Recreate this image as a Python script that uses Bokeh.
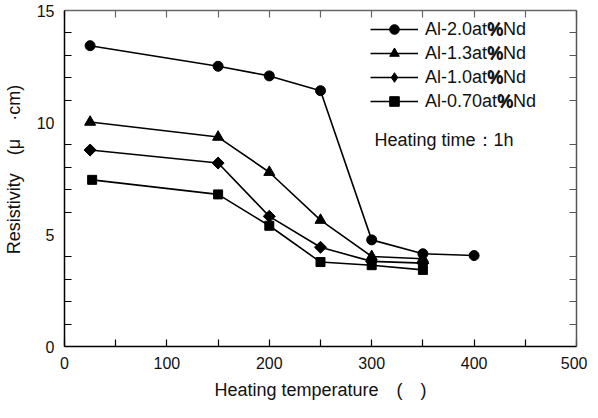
import math
from bokeh.plotting import figure
from bokeh.models import (Range1d, LinearAxis, FixedTicker, Legend, LegendItem, Label)
from bokeh.embed import file_html
from bokeh.resources import INLINE

# ---- data ----
temp_20 = [25, 150, 200, 250, 300, 350, 400]
res_20 = [13.43, 12.51, 12.08, 11.42, 4.76, 4.14, 4.06]

temp_13 = [25, 150, 200, 250, 300, 350]
res_13 = [10.02, 9.35, 7.78, 5.64, 4.02, 3.92]

temp_10 = [25, 150, 200, 250, 300, 350]
res_10 = [8.77, 8.19, 5.81, 4.43, 3.80, 3.72]

temp_07 = [27, 150, 200, 250, 300, 350]
res_07 = [7.44, 6.79, 5.39, 3.77, 3.63, 3.42]

labels = ["Al-2.0at%Nd", "Al-1.3at%Nd", "Al-1.0at%Nd", "Al-0.70at%Nd"]
x_ticks = [0, 100, 200, 300, 400, 500]
y_ticks = [0, 5, 10, 15]

FONT = "Liberation Sans"
LEG_FS = 18

p = figure(frame_width=512, frame_height=336, output_backend="svg", toolbar_location=None,
           x_range=Range1d(0, 500), y_range=Range1d(0, 15),
           min_border_left=59, min_border_right=11, min_border_top=10, min_border_bottom=56)
p.grid.visible = False
p.outline_line_color = None
p.background_fill_color = "white"
p.border_fill_color = "white"

def style_axis(ax, ticks, minor, major_in, show_labels=True, color="black"):
    ax.ticker = FixedTicker(ticks=ticks, minor_ticks=minor)
    ax.major_tick_in = major_in
    ax.major_tick_out = 0
    ax.minor_tick_in = 7
    ax.minor_tick_out = 0
    ax.axis_line_color = color
    ax.axis_line_width = 1.5
    ax.major_tick_line_color = color
    ax.minor_tick_line_color = color
    ax.major_tick_line_width = 1.2
    ax.minor_tick_line_width = 1.2
    ax.major_label_text_font = FONT
    ax.major_label_text_font_size = "16px"
    ax.major_label_text_color = "#111111"
    ax.axis_label_text_font = FONT
    ax.axis_label_text_font_size = "18px"
    ax.axis_label_text_font_style = "normal"
    ax.axis_label_text_color = "#111111"
    if not show_labels:
        ax.major_label_text_font_size = "0px"
        ax.major_label_text_color = None

x_minor = [v for v in range(0, 501, 50) if v % 100]
y_minor = [v for v in range(0, 16) if v % 5]

xa = p.xaxis[0]
style_axis(xa, x_ticks, x_minor, 7)
xa.major_label_standoff = 10
xa.axis_label = "Heating temperature\u3000(\u3000)"
xa.axis_label_standoff = 8

ya = p.yaxis[0]
style_axis(ya, y_ticks, y_minor, 0)
ya.major_label_standoff = 10
ya.axis_label = "\u3000Resistivity\u3000(\u03bc\u3000\u00b7cm)"
ya.axis_label_standoff = 10

top = LinearAxis()
style_axis(top, x_ticks, x_minor, 7, show_labels=False, color="#666666")
p.add_layout(top, "above")
right = LinearAxis()
style_axis(right, y_ticks, y_minor, 0, show_labels=False, color="#555555")
p.add_layout(right, "right")

series = [(temp_20, res_20), (temp_13, res_13), (temp_10, res_10), (temp_07, res_07)]
plot_markers = ["circle", "triangle", "square", "square"]
legend_markers = ["circle", "triangle", "diamond", "square"]
sizes = [10, 11, 8.5, 9]
angles = [0, 0, math.pi / 4, 0]
items = []
for (xs, ys), lab, mk, lmk, sz, ang in zip(series, labels, plot_markers, legend_markers, sizes, angles):
    ln = p.line(xs, ys, line_color="black", line_width=1.6)
    if lmk != mk:
        # diamond marker drawn small, then covered by a rotated square (true 45-degree diamond);
        # the small one supplies the legend glyph, since legend glyphs ignore angle
        lg = p.scatter(xs, ys, marker=lmk, size=7, fill_color="black", line_color="black")
        p.scatter(xs, ys, marker=mk, size=sz, angle=ang, fill_color="black", line_color="black")
        items.append(LegendItem(label=lab, renderers=[ln, lg]))
    else:
        sc = p.scatter(xs, ys, marker=mk, size=sz, fill_color="black", line_color="black")
        items.append(LegendItem(label=lab, renderers=[ln, sc]))

LEG_X, LEG_Y = 306, 233
GW, STAND, ROW_H, SP = 48, 7, 24, 0
leg = Legend(items=items, location=(LEG_X, LEG_Y), orientation="vertical")
leg.border_line_color = None
leg.background_fill_alpha = 0
leg.padding = 0
leg.margin = 0
leg.spacing = SP
leg.glyph_width = GW
leg.glyph_height = ROW_H
leg.label_height = ROW_H
leg.label_standoff = STAND
leg.label_text_font = FONT
leg.label_text_font_size = f"{LEG_FS}px"
leg.label_text_color = "#111111"
p.add_layout(leg, "center")

# bold "%" in legend texts (same advance width as the regular one in Arial metrics)
prefix_em = {"Al-2.0at": 3.446, "Al-1.3at": 3.446, "Al-1.0at": 3.446, "Al-0.70at": 4.002}
leg_top = LEG_Y + 4 * ROW_H + 3 * SP
for i, lab in enumerate(labels):
    pre = lab.split("%")[0]
    xpos = LEG_X + GW + STAND + prefix_em[pre] * LEG_FS
    ypos = leg_top - ROW_H / 2 - i * (ROW_H + SP)
    p.add_layout(Label(x=xpos, y=ypos, x_units="screen", y_units="screen", text="%",
                       text_font=FONT, text_font_size=f"{LEG_FS}px", text_font_style="bold",
                       text_baseline="middle", text_color="#111111",
                       background_fill_color="white", padding=0))

p.add_layout(Label(x=310, y=207, x_units="screen", y_units="screen",
                   text="Heating time\uff1a1h", text_font=FONT, text_font_size="18px",
                   text_baseline="middle", text_color="#111111"))

open("out.html", "w").write(file_html(p, INLINE))
